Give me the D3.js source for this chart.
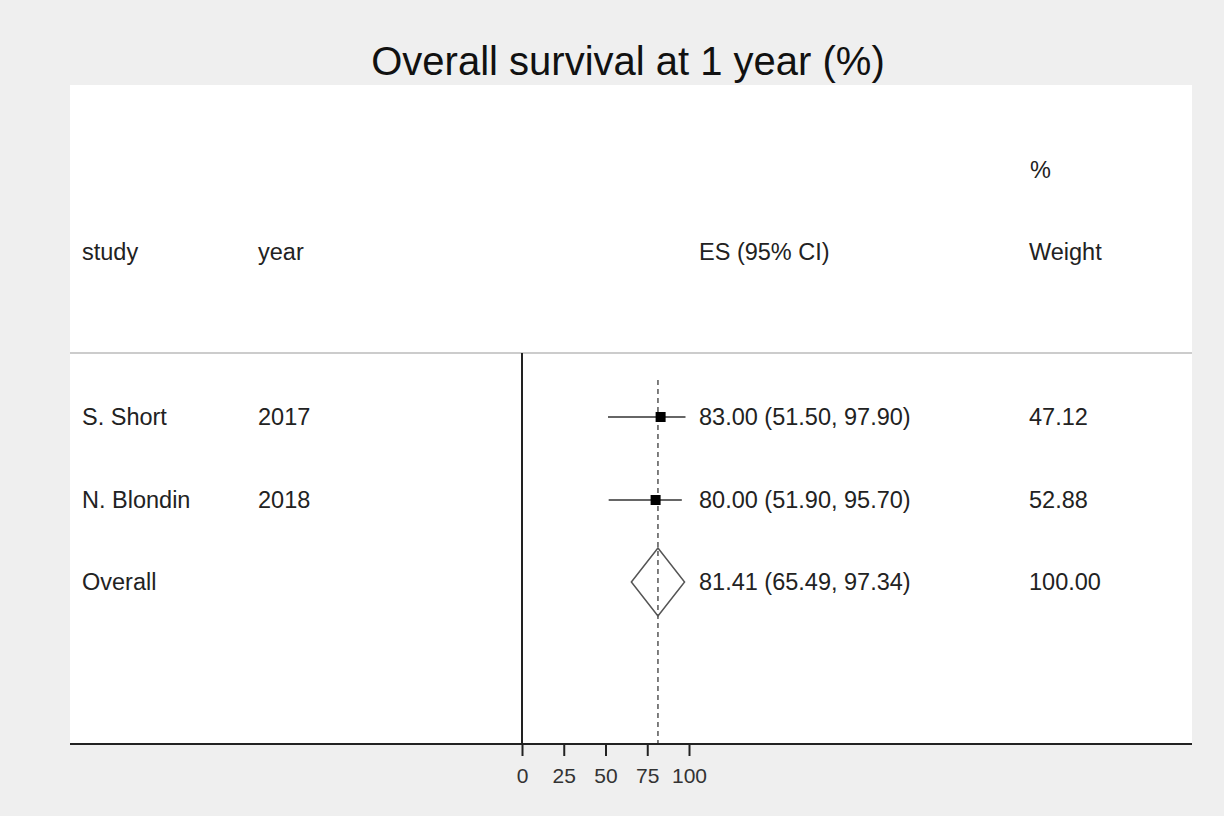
<!DOCTYPE html>
<html><head><meta charset="utf-8">
<script src="https://cdn.jsdelivr.net/npm/d3@7"></script>
<style>body{margin:0;background:#efefef;font-family:"Liberation Sans",Arial,sans-serif;}</style>
</head><body>
<script>
const studies = ["S. Short", "N. Blondin"];
const years = ["2017", "2018"];
const es = [83.00, 80.00];
const lo = [51.50, 51.90];
const hi = [97.90, 95.70];
const weights = ["47.12", "52.88"];
const overall = {es: 81.41, lo: 65.49, hi: 97.34, weight: "100.00"};
const ticks = [0, 25, 50, 75, 100];

const width = 1224, height = 816, fs = "23.5px";
const svg = d3.select("body").append("svg").attr("width", width).attr("height", height);

svg.append("rect").attr("x", 0).attr("y", 0).attr("width", width).attr("height", height).attr("fill", "#efefef");
svg.append("rect").attr("x", 70).attr("y", 85).attr("width", 1122).attr("height", 659).attr("fill", "#fff");

svg.append("text").attr("x", 628).attr("y", 75).attr("text-anchor", "middle")
    .style("font-size", "40px").attr("fill", "#111").text("Overall survival at 1 year (%)");

const x = d3.scaleLinear().domain([0, 100]).range([522, 689]);
const rowY = [417, 500, 582];

const txt = (t, xx, yy) => svg.append("text").attr("x", xx).attr("y", yy)
    .style("font-size", fs).attr("fill", "#222").text(t);
txt("study", 82, 260); txt("year", 258, 260); txt("ES (95% CI)", 699, 260);
txt("%", 1030, 178); txt("Weight", 1029, 260);
svg.append("line").attr("x1", 70).attr("x2", 1192).attr("y1", 353).attr("y2", 353)
    .attr("stroke", "#ccc").attr("stroke-width", 2);

// null line
svg.append("line").attr("x1", x(0)).attr("x2", x(0)).attr("y1", 353).attr("y2", 744)
    .attr("stroke", "#222").attr("stroke-width", 2);
// overall dashed line
svg.append("line").attr("x1", x(overall.es)).attr("x2", x(overall.es)).attr("y1", 380).attr("y2", 744)
    .attr("stroke", "#555").attr("stroke-width", 1.5).attr("stroke-dasharray", "5,4");

const fmt = d3.format(".2f");
studies.forEach((s, i) => {
    const y = rowY[i];
    txt(s, 82, y + 8);
    txt(years[i], 258, y + 8);
    svg.append("line").attr("x1", x(lo[i])).attr("x2", x(hi[i])).attr("y1", y).attr("y2", y)
        .attr("stroke", "#333").attr("stroke-width", 1.5);
    svg.append("rect").attr("x", x(es[i]) - 5).attr("y", y - 5).attr("width", 10).attr("height", 10).attr("fill", "#000");
    txt(`${fmt(es[i])} (${fmt(lo[i])}, ${fmt(hi[i])})`, 699, y + 8);
    txt(weights[i], 1029, y + 8);
});

const oy = rowY[2];
txt("Overall", 82, oy + 8);
svg.append("polygon")
    .attr("points", [[x(overall.lo), oy], [x(overall.es), oy - 34], [x(overall.hi), oy], [x(overall.es), oy + 34]].join(" "))
    .attr("fill", "none").attr("stroke", "#555").attr("stroke-width", 1.5);
txt(`${fmt(overall.es)} (${fmt(overall.lo)}, ${fmt(overall.hi)})`, 699, oy + 8);
txt(overall.weight, 1029, oy + 8);

// axis
svg.append("line").attr("x1", 70).attr("x2", 1192).attr("y1", 744).attr("y2", 744).attr("stroke", "#222").attr("stroke-width", 2);
const ax = svg.append("g").attr("transform", "translate(0,744)")
    .call(d3.axisBottom(x).tickValues(ticks).tickSize(12).tickSizeOuter(0).tickPadding(12));
ax.select(".domain").remove();
ax.selectAll("line").attr("stroke", "#222").attr("stroke-width", 2);
ax.selectAll("text").style("font-size", "21px").attr("fill", "#333")
    .style("font-family", "'Liberation Sans',Arial,sans-serif");
</script>
</body></html>
